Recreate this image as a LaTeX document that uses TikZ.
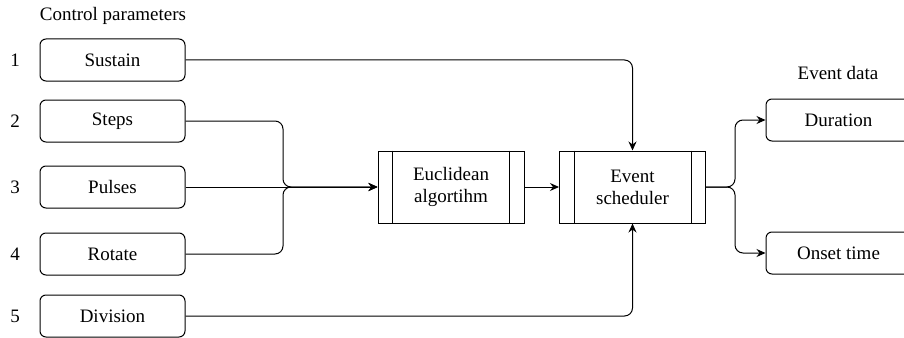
\documentclass[tikz,border=0pt]{standalone}
\usepackage{fontspec}
\setmainfont{Liberation Serif}
\usetikzlibrary{arrows.meta,calc}
\begin{document}
\begin{tikzpicture}[x=1pt,y=-1pt,
  every node/.style={font=\fontsize{19}{22}\selectfont},
  param/.style={draw,line width=1pt,rounded corners=6pt,minimum width=145pt,minimum height=42pt,inner sep=0pt},
  proc/.style={draw,line width=1pt,minimum width=146pt,minimum height=72pt,align=center,inner sep=0pt},
  conn/.style={line width=1pt,rounded corners=8pt,-{Stealth[length=9pt,width=8pt,inset=3pt]}},
  lbl/.style={inner sep=0pt}]
\useasboundingbox (0,0) rectangle (904,337);
\clip (0,0) rectangle (904,337);

\node[lbl] (cp) at (113,16) {Control parameters};
\node[lbl] (ed) at (838,73) {Event data};

\node[param] (sus) at (112.5,60) {Sustain};
\node[param] (stp) at (112.5,121) {Steps};
\node[param] (pul) at (112.5,187) {Pulses};
\node[param] (rot) at (112.5,254) {Rotate};
\node[param] (div) at (112.5,316) {Division};

\node[lbl] (n1) at (15,60) {1};
\node[lbl] (n2) at (15,121) {2};
\node[lbl] (n3) at (15,187) {3};
\node[lbl] (n4) at (15,254) {4};
\node[lbl] (n5) at (15,316) {5};

\node[proc] (euc) at (451,187) {Euclidean\\algortihm};
\node[proc] (sch) at (632.5,187) {Event\\scheduler};
\foreach \b in {euc,sch}{
  \draw[line width=1pt] ([xshift=15pt]\b.north west) -- ([xshift=15pt]\b.south west);
  \draw[line width=1pt] ([xshift=-15pt]\b.north east) -- ([xshift=-15pt]\b.south east);
}

\node[param] (dur) at (838.5,120) {Duration};
\node[param] (ons) at (838.5,253) {Onset time};

\coordinate (j) at (283,187);
\coordinate (s) at (735,187);

\draw[conn] (sus.east) -| (sch.north);
\draw[conn] (div.east) -| (sch.south);
\draw[conn] (stp.east) -| (j) -- (euc.west);
\draw[conn] (pul.east) -- (euc.west);
\draw[conn] (rot.east) -| (j) -- (euc.west);
\draw[conn] (euc.east) -- (sch.west);
\draw[conn] (sch.east) -- (s) |- (dur.west);
\draw[conn] (sch.east) -- (s) |- (ons.west);
\end{tikzpicture}
\end{document}
